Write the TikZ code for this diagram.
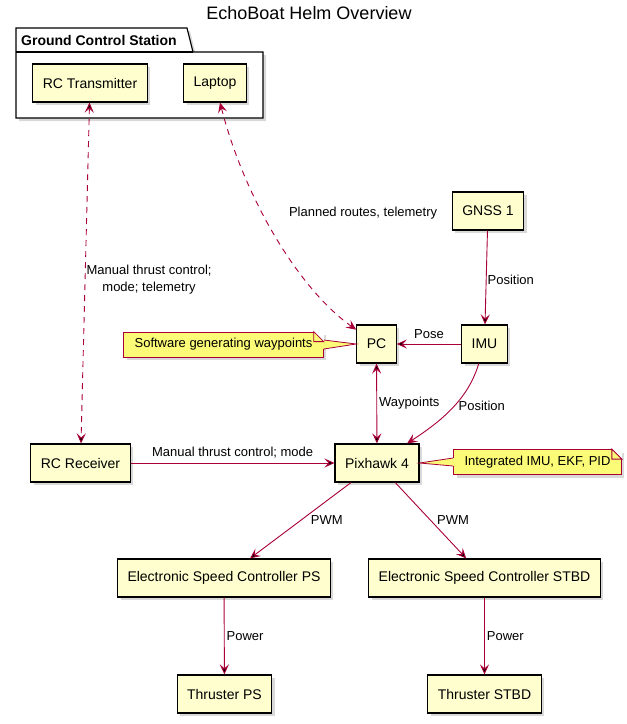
\documentclass[tikz,border=0pt]{standalone}
\usepackage{fontspec}
\setmainfont{Liberation Sans}
\usetikzlibrary{arrows.meta,shadows}
\definecolor{boxfill}{HTML}{FEFECE}
\definecolor{notefill}{HTML}{FBFB77}
\definecolor{linkred}{HTML}{A80036}

\begin{document}
\begin{tikzpicture}[x=1pt,y=-1pt,
  shade3/.style={drop shadow={shadow xshift=3pt,shadow yshift=-3pt,opacity=.3}},
  box/.style={draw=black,line width=1.2pt,fill=boxfill,minimum height=38pt,inner xsep=10pt,font=\fontsize{14}{16}\selectfont,shade3},
  note/.style={draw=linkred,line width=.8pt,fill=notefill,minimum height=25pt,inner xsep=11pt,font=\fontsize{13}{15}\selectfont,shade3},
  tip/.tip={Stealth[length=10pt,width=9pt,inset=4pt]},
  link/.style={draw=linkred,line width=.9pt,-tip},
  both/.style={draw=linkred,line width=.9pt,tip-tip},
  lbl/.style={font=\fontsize{13}{17}\selectfont,inner sep=1pt,text=black}]
  \useasboundingbox (0,0) rectangle (627,724);

  \node [font=\fontsize{18}{20}\selectfont] (title) at (309,13) {EchoBoat Helm Overview};

  % ground control station package
  \filldraw [draw=black,line width=1.2pt,fill=white,shade3]
    (16,28) -- (187,28) -- (193,52) -- (263,52) -- (263,118) -- (16,118) -- cycle;
  \draw [line width=1.2pt] (16,52) -- (193,52);
  \node [anchor=west,inner sep=0pt,font=\bfseries\fontsize{14}{16}\selectfont] (gcs) at (21,40) {Ground Control Station};

  \node [box] (tx) at (90,83) {RC Transmitter};
  \node [box] (laptop) at (215,83) {Laptop};

  \node [box] (gnss) at (488,211) {GNSS 1};
  \node [box] (pc) at (376.5,344) {PC};
  \node [box] (imu) at (484.5,344) {IMU};
  \node [box] (rx) at (80.5,463) {RC Receiver};
  \node [box] (px) at (377,463) {Pixhawk 4};
  \node [box] (escps) at (224,578) {Electronic Speed Controller PS};
  \node [box] (escsb) at (484.5,578) {Electronic Speed Controller STBD};
  \node [box] (thps) at (224.5,694) {Thruster PS};
  \node [box] (thsb) at (484.5,694) {Thruster STBD};

  % notes
  \node [note] (pcnote) at (223.5,344.5) {Software generating waypoints};
  \node [note] (pxnote) at (537.5,462) {Integrated IMU, EKF, PID};
  \fill [notefill] ([xshift=-1pt,yshift=4.5pt]pcnote.east) -- (pc.west) -- ([xshift=-1pt,yshift=-4.5pt]pcnote.east) -- cycle;
  \draw [linkred,line width=.8pt] ([yshift=4.5pt]pcnote.east) -- (pc.west) -- ([yshift=-4.5pt]pcnote.east);
  \fill [notefill] ([xshift=1pt,yshift=4pt]pxnote.west) -- (px.east) -- ([xshift=1pt,yshift=-4pt]pxnote.west) -- cycle;
  \draw [linkred,line width=.8pt] ([yshift=4pt]pxnote.west) -- (px.east) -- ([yshift=-4pt]pxnote.west);
  \foreach \n in {pcnote,pxnote} {
    \fill [white] ([xshift=-10pt]\n.north east) -- (\n.north east) -- ([yshift=-10pt]\n.north east) -- cycle;
    \draw [linkred,line width=.8pt] ([xshift=-10pt]\n.north east) -- ([yshift=-10pt]\n.north east)
      -- ([xshift=-10pt,yshift=-10pt]\n.north east) -- cycle;
  }

  % connectors
  \path [both,dashed,dash pattern=on 6pt off 5pt]
  (tx) edge [] node [lbl,right,align=center,pos=.52] {Manual thrust control;\\mode; telemetry} (rx);
  \draw [both,dash pattern=on 6pt off 5pt] (laptop) .. controls (245,200) and (300,290) .. (pc)
    node [lbl,pos=.4,anchor=west,xshift=25pt] {Planned routes, telemetry};
  \draw [link] (imu) .. controls (468,400) and (440,422) .. (px)
    node [lbl,pos=.46,anchor=west,xshift=3pt] {Position};
  \path [link]
  (gnss) edge [] node [lbl,right,pos=.52] {Position} (imu)
  (imu) edge [] node [lbl,above=4pt] {Pose} (pc)
  (rx) edge [] node [lbl,above=3pt] {Manual thrust control; mode} (px)
  (px) edge [] node [lbl,right=9pt] {PWM} (escps)
  (px) edge [] node [lbl,right=5pt] {PWM} (escsb)
  (escps) edge [] node [lbl,right=1pt] {Power} (thps)
  (escsb) edge [] node [lbl,right=1pt] {Power} (thsb);
  \path [both]
  (pc) edge [] node [lbl,right=1pt] {Waypoints} (px);
\end{tikzpicture}
\end{document}
